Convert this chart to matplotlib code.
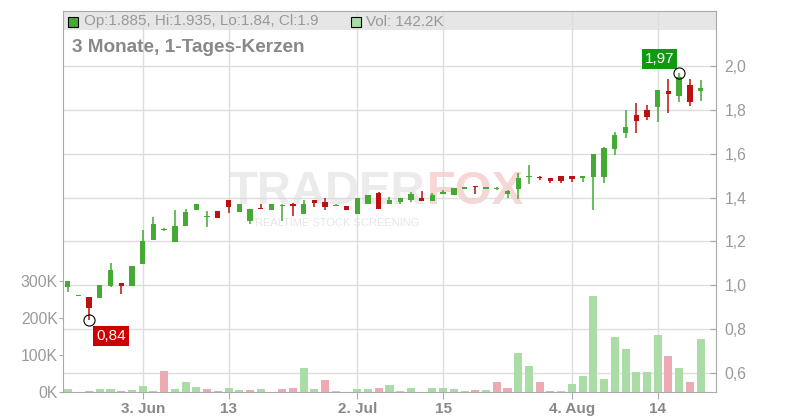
import matplotlib
matplotlib.use('Agg')
import matplotlib.pyplot as plt
from matplotlib.patches import Rectangle
from matplotlib.lines import Line2D

plt.rcParams['font.family'] = ['Liberation Sans', 'DejaVu Sans']

# %%
# Daily candles (oldest first)
opens = [0.99, 0.95, 0.948, 0.94, 0.997, 1.009, 0.998, 1.098, 1.208, 1.25,
         1.199, 1.271, 1.345, 1.31, 1.339, 1.389, 1.335, 1.294, 1.348, 1.345,
         1.36, 1.37, 1.323, 1.389, 1.38, 1.36, 1.362, 1.324, 1.371, 1.419,
         1.371, 1.381, 1.389, 1.40, 1.386, 1.418, 1.413, 1.438, 1.448, 1.438,
         1.44, 1.418, 1.438, 1.495, 1.49, 1.488, 1.498, 1.498, 1.487, 1.495,
         1.495, 1.623, 1.694, 1.776, 1.799, 1.814, 1.886, 1.865, 1.913, 1.885]
highs = [1.02, 0.95, 0.948, 1.0, 1.10, 1.01, 1.088, 1.252, 1.311, 1.262,
         1.343, 1.349, 1.371, 1.339, 1.339, 1.389, 1.371, 1.348, 1.371, 1.371,
         1.371, 1.374, 1.389, 1.389, 1.397, 1.371, 1.362, 1.397, 1.412, 1.424,
         1.402, 1.397, 1.424, 1.432, 1.422, 1.434, 1.443, 1.448, 1.448, 1.448,
         1.446, 1.433, 1.511, 1.547, 1.50, 1.488, 1.498, 1.498, 1.498, 1.599,
         1.63, 1.699, 1.799, 1.833, 1.822, 1.89, 1.939, 1.97, 1.939, 1.935]
lows = [0.97, 0.95, 0.84, 0.94, 0.99, 0.962, 0.998, 1.098, 1.208, 1.248,
        1.199, 1.271, 1.345, 1.267, 1.308, 1.328, 1.335, 1.281, 1.346, 1.345,
        1.295, 1.317, 1.323, 1.358, 1.343, 1.36, 1.343, 1.324, 1.371, 1.346,
        1.371, 1.371, 1.381, 1.386, 1.386, 1.418, 1.413, 1.438, 1.418, 1.438,
        1.434, 1.397, 1.394, 1.463, 1.48, 1.465, 1.467, 1.47, 1.472, 1.343,
        1.468, 1.594, 1.673, 1.696, 1.754, 1.746, 1.787, 1.837, 1.819, 1.84]
closes = [1.02, 0.95, 0.898, 1.0, 1.07, 0.998, 1.088, 1.202, 1.279, 1.252,
          1.27, 1.334, 1.371, 1.316, 1.308, 1.358, 1.371, 1.348, 1.346, 1.371,
          1.365, 1.362, 1.371, 1.377, 1.358, 1.362, 1.343, 1.397, 1.412, 1.346,
          1.389, 1.397, 1.416, 1.386, 1.412, 1.425, 1.443, 1.448, 1.447, 1.448,
          1.442, 1.43, 1.489, 1.498, 1.487, 1.476, 1.477, 1.485, 1.498, 1.599,
          1.624, 1.685, 1.722, 1.750, 1.769, 1.890, 1.871, 1.948, 1.837, 1.9]
# volume in thousands
volume_k = [8, 0, 3, 8, 8, 3, 5, 16, 3, 57, 8, 27, 14, 8, 3, 11, 5, 5, 8, 0,
            8, 11, 65, 8, 33, 2, 0, 8, 8, 11, 19, 3, 11, 0, 11, 11, 8, 3, 5, 5,
            27, 11, 106, 71, 27, 2, 2, 22, 44, 259, 35, 150, 117, 54, 54, 155,
            98, 65, 27, 142.2]
# u = up day, d = down day, n = unchanged (colour of the volume bar)
volume_dir = list("unduuduuuduuudduudun"
                  "dduudnnuuduuunuuuudu"
                  "dduuddnuuuuuuuuududu")

date_ticks = [7, 15, 27, 35, 47, 55]
date_labels = ['3. Jun', '13', '2. Jul', '15', '4. Aug', '14']
price_ticks = [0.6, 0.8, 1.0, 1.2, 1.4, 1.6, 1.8, 2.0]
vol_ticks = [0, 100, 200, 300]

# %%
green = '#44aa33'
red = '#bb1111'
vol_colors = {'u': '#aadda6', 'd': '#eeaab2', 'n': '#cccccc'}
grid_c = '#dddddd'
axis_c = '#aaaaaa'
text_c = '#999999'

W, H = 800, 420


def px(x, y):
    # pixel position -> figure fraction
    return x / W, 1 - y / H


fig = plt.figure(figsize=(8, 4.2), dpi=100)
ax_vol = fig.add_axes([63.3 / W, (H - 392) / H, 653 / W, 380.7 / H])
ax = ax_vol.twinx()
ax.patch.set_visible(False)

n = len(closes)
xs = list(range(n))

# volume bars
ax_vol.bar(xs, volume_k, width=0.75,
           color=[vol_colors[c] for c in volume_dir], zorder=1)
ax_vol.set_ylim(0, 1029)
ax_vol.set_xlim(-0.4, 60.46)
ax_vol.set_yticks(vol_ticks)
ax_vol.set_yticklabels([f'{v}K' for v in vol_ticks])
ax_vol.set_xticks(date_ticks)
ax_vol.set_xticklabels(date_labels, fontweight='bold')
ax_vol.set_axisbelow(True)
ax_vol.grid(axis='x', color=grid_c, lw=1.0)
for s in ax_vol.spines.values():
    s.set_color(axis_c)
ax_vol.tick_params(axis='y', direction='out', length=3, color=axis_c,
                   labelcolor=text_c, labelsize=11.3, pad=1)
ax_vol.tick_params(axis='x', direction='out', length=5, color=axis_c,
                   labelcolor='#888888', labelsize=11, pad=2)

# header band
band_bottom = (392 - 30) / 380.7
ax_vol.add_patch(Rectangle((0, band_bottom), 1, 1 - band_bottom,
                           transform=ax_vol.transAxes, color='#e6e6e6',
                           zorder=0.3, lw=0))

# horizontal grid at price levels, drawn behind the volume bars
for p in price_ticks:
    ax_vol.add_line(Line2D([0, 1], [p, p], transform=ax.get_yaxis_transform(),
                           color=grid_c, lw=1.0, zorder=0.6))

# candles
cols = [green if c >= o else red for o, c in zip(opens, closes)]
ax.vlines(xs, lows, highs, colors=cols, lw=1.1, zorder=3)
bottoms = [min(o, c) for o, c in zip(opens, closes)]
heights = [max(abs(c - o), 0.005) for o, c in zip(opens, closes)]
ax.bar(xs, heights, bottom=bottoms, width=0.5, color=cols, zorder=4)

ax.set_ylim(0.5134, 2.2494)
ax.set_yticks(price_ticks)
ax.set_yticklabels([f'{p:.1f}'.replace('.', ',') for p in price_ticks])
ax.tick_params(axis='y', direction='in', length=4, color=axis_c,
               labelcolor=text_c, labelsize=11.3, pad=6)
for s in ax.spines.values():
    s.set_visible(False)

# low / high markers
i_lo = lows.index(min(lows))
i_hi = highs.index(max(highs))
ax.plot([i_lo, i_hi], [lows[i_lo], highs[i_hi]], 'o', ms=8, mfc='none',
        mec='black', mew=0.8, zorder=5)
ax.annotate(f'{lows[i_lo]:.2f}'.replace('.', ','), (i_lo, lows[i_lo]),
            xytext=(7, -9), textcoords='offset pixels', ha='left', va='top',
            color='white', fontsize=11,
            bbox=dict(boxstyle='square,pad=0.2', fc='#cc0000', ec='none'))
ax.annotate(f'{highs[i_hi]:.2f}'.replace('.', ','), (i_hi, highs[i_hi]),
            xytext=(-5, 7), textcoords='offset pixels', ha='right',
            va='bottom', color='white', fontsize=11,
            bbox=dict(boxstyle='square,pad=0.2', fc='#119911', ec='none'))

# watermark
ax_vol.text(*px(425, 204), 'TRADER', transform=fig.transFigure, ha='right',
            va='baseline', fontsize=34, fontweight='bold', color='#ebebeb',
            zorder=0.2)
ax_vol.text(*px(427, 204), 'FOX', transform=fig.transFigure, ha='left',
            va='baseline', fontsize=34, fontweight='bold', color='#f9d6d6',
            zorder=0.2)
ax_vol.text(*px(255, 226), 'REALTIME STOCK SCREENING',
            transform=fig.transFigure, ha='left', va='baseline', fontsize=8,
            color='#e6e6e6', zorder=0.2)

# header legend
fig.patches.append(Rectangle(px(68.3, 26.7), 10 / W, 10 / H,
                             transform=fig.transFigure, fc=green,
                             ec='black', lw=0.8))
fig.patches.append(Rectangle(px(350.5, 26.7), 10 / W, 10 / H,
                             transform=fig.transFigure,
                             fc=vol_colors['u'], ec='black', lw=0.8))
fig.text(*px(84, 21.5),
         f'Op:{opens[-1]}, Hi:{highs[-1]}, Lo:{lows[-1]}, Cl:{closes[-1]}',
         ha='left', va='center', fontsize=11, color=text_c)
fig.text(*px(366, 21.5), f'Vol: {volume_k[-1]}K', ha='left', va='center',
         fontsize=11, color=text_c)
fig.text(*px(72, 47), '3 Monate, 1-Tages-Kerzen', ha='left', va='center',
         fontsize=13.7, fontweight='bold', color='#888888')

fig.savefig('out.png', dpi=100)
